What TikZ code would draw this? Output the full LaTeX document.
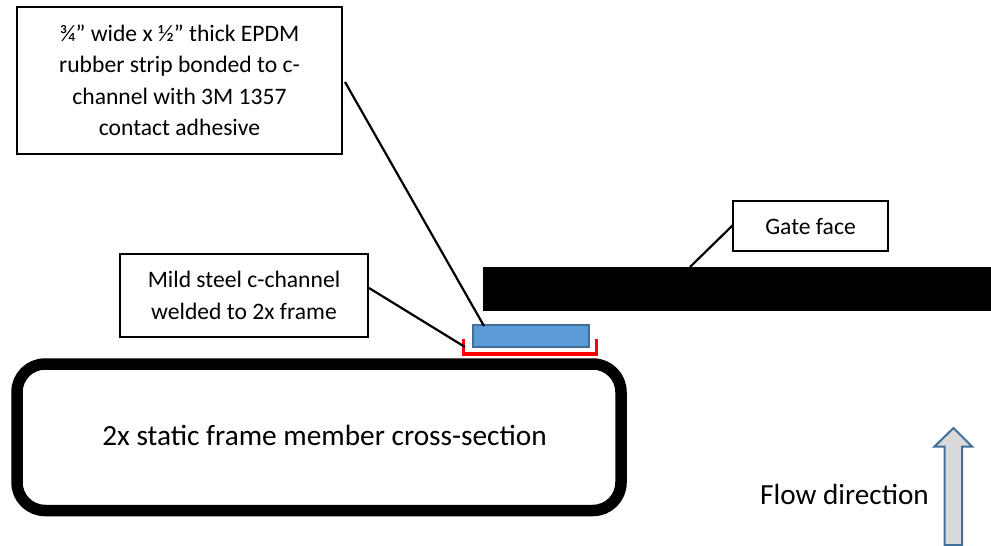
\documentclass[tikz,border=0pt]{standalone}
\usepackage{fontspec}
\setmainfont{Carlito}
\begin{document}
\begin{tikzpicture}[x=1pt,y=-1pt,
 label box/.style={draw=black,line width=2pt,fill=white,align=center,font=\fontsize{23.6}{31.5}\selectfont,inner sep=0pt,outer sep=0pt,anchor=north west},
 lead/.style={draw=black,line width=2.2pt}]
\useasboundingbox (0,0) rectangle (991,546);
\fill[white] (0,0) rectangle (991,546);
\node[draw=black,line width=11.5pt,fill=white,rounded corners=28pt,minimum width=604pt,minimum height=146.5pt,anchor=north west,inner sep=0pt,outer sep=0pt] (frame) at (17,364) {};
\node[font=\fontsize{29.3}{34}\selectfont,inner sep=0pt] (frametext) at (324.5,435) {2x static frame member cross-section};
\node[fill=black,minimum width=508pt,minimum height=44pt,anchor=north west,inner sep=0pt,outer sep=0pt] (gate) at (483,267) {};
\draw[red,line width=3.6pt,line cap=butt] (463.5,339) -- (463.5,354) -- (596.5,354) -- (596.5,339);
\node[draw={rgb,255:red,65;green,110;blue,155},line width=2pt,fill={rgb,255:red,91;green,155;blue,213},minimum width=116pt,minimum height=22pt,anchor=north west,inner sep=0pt,outer sep=0pt] (strip) at (473,325) {};
\node[label box,minimum width=325pt,minimum height=147pt] (b1) at (17,7) {¾” wide x ½” thick EPDM\\rubber strip bonded to c-\\channel with 3M 1357\\contact adhesive};
\node[label box,minimum width=248pt,minimum height=83pt] (b2) at (120,254) {Mild steel c-channel\\welded to 2x frame};
\node[label box,minimum width=155pt,minimum height=50pt] (b3) at (733,201) {Gate face};
\coordinate (e1) at (345,82);
\coordinate (s1) at (484,326);
\coordinate (e2) at (369,288);
\coordinate (s2) at (465,347);
\coordinate (e3) at (733,225);
\coordinate (s3) at (690,267);
\draw[lead] (e1) -- (s1);
\draw[lead] (e2) -- (s2);
\draw[lead] (e3) -- (s3);
\node[font=\fontsize{29.2}{34}\selectfont,inner sep=0pt] (flow) at (844.5,494) {Flow direction};
\draw[draw={rgb,255:red,65;green,110;blue,155},line width=2pt,fill={rgb,255:red,217;green,217;blue,217},line join=miter] (944.5,545) -- (944.5,446.5) -- (934.5,446.5) -- (953.5,428) -- (972,446.5) -- (962,446.5) -- (962,545) -- cycle;
\end{tikzpicture}
\end{document}
